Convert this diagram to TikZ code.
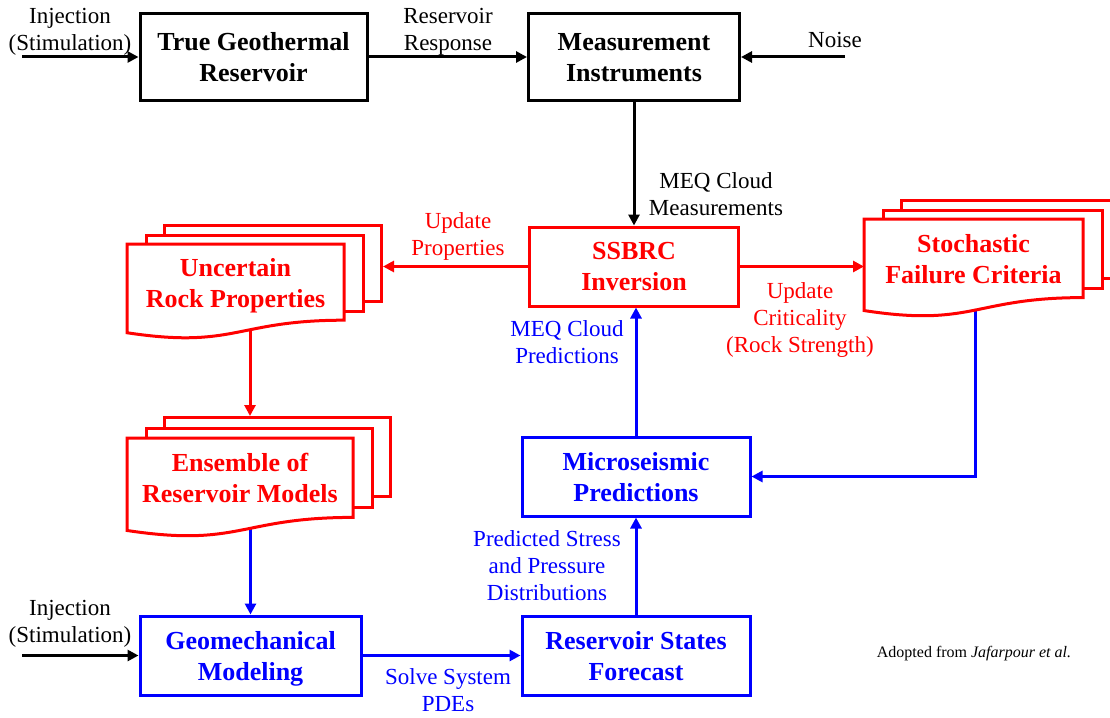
\documentclass[tikz,border=0pt]{standalone}
\usepackage{fontspec}
\setmainfont{Liberation Serif}
\usetikzlibrary{arrows.meta,backgrounds}
\definecolor{dred}{RGB}{255,0,0}
\definecolor{dblue}{RGB}{0,0,255}
\newcommand\multidoc[9]{% name,L,T,W,H,dx,dy,text,text offset
  \node[page, minimum width=#4pt, minimum height={0.8*#5pt}, anchor=north west] (#1-3) at ({#2+2*(#6)},{#3+2*(#7)}) {};
  \node[page, minimum width=#4pt, minimum height={0.8*#5pt}, anchor=north west] (#1-2) at ({#2+(#6)},{#3+(#7)}) {};
  \draw[pageline] ({#2},{#3}) -- ({#2+#4},{#3}) -- ({#2+#4},{#3+0.802*#5})
    .. controls ({#2+#4/2},{#3+0.802*#5}) and ({#2+#4/2},{#3+1.107*#5}) .. ({#2},{#3+0.934*#5}) -- cycle;
  \node[doctext] (#1) at ({#2+#4/2},{#3+0.4*#5+#9}) {#8};
  \coordinate (#1-w) at ({#2},{#3+0.4*#5});
}
\begin{document}
\begin{tikzpicture}[x=1pt,y=-1pt,
  box/.style={draw, line width=3pt, fill=white, align=center, inner sep=0pt, text depth=0pt,
    font=\bfseries\fontsize{26}{31}\selectfont},
  page/.style={draw=dred, line width=3pt, fill=white, inner sep=0pt},
  pageline/.style={draw=dred, line width=3pt, fill=white, line join=miter},
  doctext/.style={align=center, inner sep=0pt, text=dred, font=\bfseries\fontsize{26}{31}\selectfont},
  lbl/.style={align=center, inner sep=0pt, text depth=0pt, font=\fontsize{23}{27}\selectfont},
  conn/.style={line width=3pt, -{Triangle[length=11pt,width=11pt]}},
  ]
\useasboundingbox (0,0) rectangle (1110,717);

% black boxes
\node[box, minimum width=227pt, minimum height=86pt] (true) at (253.5,57) {True Geothermal\\Reservoir};
\node[box, minimum width=211pt, minimum height=86pt] (meas) at (634,57) {Measurement\\Instruments};
% red inversion box
\node[box, draw=dred, text=dred, minimum width=209pt, minimum height=79pt] (ssbrc) at (634,266.5) {SSBRC\\Inversion};
% blue boxes
\node[box, draw=dblue, text=dblue, minimum width=228pt, minimum height=79pt] (micro) at (636,476.5) {Microseismic\\Predictions};
\node[box, draw=dblue, text=dblue, minimum width=221pt, minimum height=79pt] (geo) at (250.5,655.5) {Geomechanical\\Modeling};
\node[box, draw=dblue, text=dblue, minimum width=228pt, minimum height=79pt] (rsf) at (636,655.5) {Reservoir States\\Forecast};

% multi-documents
\multidoc{unc}{127}{244}{217}{95}{18}{-10}{Uncertain\\Rock Properties}{4}
\multidoc{ens}{127}{438}{226}{99}{18}{-11}{Ensemble of\\Reservoir Models}{0}
\multidoc{sto}{864}{219}{219}{98}{18}{-10}{Stochastic\\Failure Criteria}{1}

% labels
\node[lbl] (inj1) at (70,29) {Injection\\(Stimulation)};
\node[lbl] (resp) at (448,29) {Reservoir\\Response};
\node[lbl] (noise) at (835,40) {Noise};
\node[lbl] (meqm) at (716,194.5) {MEQ Cloud\\Measurements};
\node[lbl, text=dred] (updp) at (458,234.5) {Update\\Properties};
\node[lbl, text=dred] (updc) at (800,318) {Update\\Criticality\\(Rock Strength)};
\node[lbl, text=dblue] (meqp) at (567,342.5) {MEQ Cloud\\Predictions};
\node[lbl, text=dblue] (psd) at (547,565.5) {Predicted Stress\\and Pressure\\Distributions};
\node[lbl] (inj2) at (70,621.5) {Injection\\(Stimulation)};
\node[lbl, text=dblue] (solve) at (448,690.5) {Solve System\\PDEs};
\node[inner sep=0pt, font=\fontsize{16}{19}\selectfont] (adopt) at (974,654) {Adopted from \textit{Jafarpour et al.}};

% free ends
\coordinate (in1) at (22,57);
\coordinate (in2) at (22,655.5);
\coordinate (nz) at (845,57);
\coordinate (uncout) at (250,300);
\coordinate (ensout) at (250.5,500);
\coordinate (stoout) at (975,280);

\begin{scope}[on background layer]
\draw[conn] (in1) -- (true.west);
\draw[conn] (true.east) -- (meas.west);
\draw[conn] (nz) -- (meas.east);
\draw[conn] (meas.south) -- (ssbrc.north);
\draw[conn, dred] (ssbrc.west) -- (ssbrc.west -| unc-3.east);
\draw[conn, dred] (ssbrc.east) -- (ssbrc.east -| sto-w);
\draw[conn, dred] (uncout) -- (uncout |- ens-3.north);
\draw[conn, dblue] (ensout) -- (geo.north);
\draw[conn] (in2) -- (geo.west);
\draw[conn, dblue] (geo.east) -- (rsf.west);
\draw[conn, dblue] (rsf.north) -- (micro.south);
\draw[conn, dblue] (micro.north) -- (micro.north |- ssbrc.south);
\draw[conn, dblue] (stoout) |- (micro.east);
\end{scope}
\end{tikzpicture}
\end{document}
